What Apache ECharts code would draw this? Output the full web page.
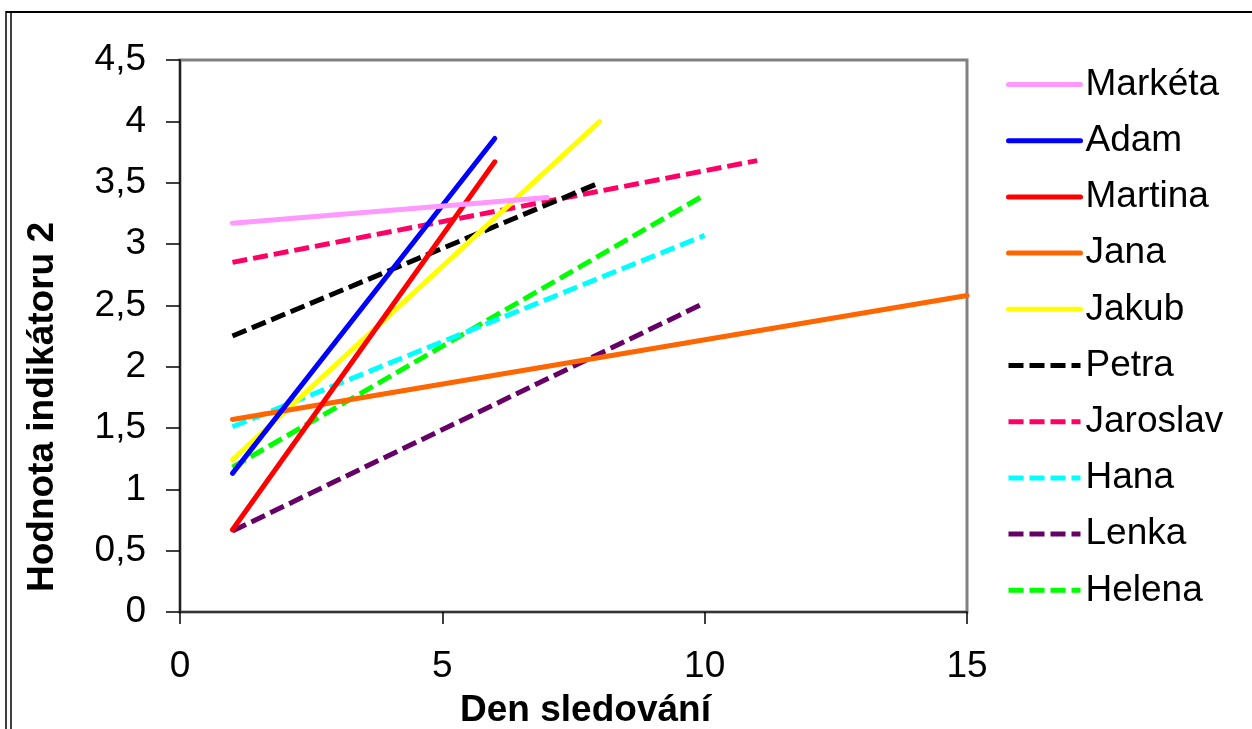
<!DOCTYPE html>
<html>
<head>
<meta charset="utf-8">
<script src="https://cdn.jsdelivr.net/npm/echarts@6/dist/echarts.min.js"></script>
<style>
html,body{margin:0;padding:0;background:#fff;}
#chart{width:1252px;height:729px;}
</style>
</head>
<body>
<div id="chart"></div>
<script>
// Data (x = day, y = indicator value); each series is a straight line between two points
const names = ['Markéta','Adam','Martina','Jana','Jakub','Petra','Jaroslav','Hana','Lenka','Helena'];
const markeata = [[1, 3.17], [7, 3.38]];
const adam     = [[1, 1.13], [6, 3.86]];
const martina  = [[1, 0.67], [6, 3.67]];
const jana     = [[1, 1.57], [15, 2.58]];
const jakub    = [[1, 1.24], [8, 4.0]];
const petra    = [[1, 2.25], [8, 3.5]];
const jaroslav = [[1, 2.85], [11, 3.68]];
const hana     = [[1, 1.51], [10, 3.07]];
const lenka    = [[1, 0.66], [10, 2.52]];
const helena   = [[1, 1.18], [10, 3.40]];
const seriesData = [markeata, adam, martina, jana, jakub, petra, jaroslav, hana, lenka, helena];
const colors = ['#FF99FF','#0000FF','#FF0000','#FF6600','#FFFF00','#000000','#FF0066','#00FFFF','#660066','#00FF00'];
const dashed = [false,false,false,false,false,true,true,true,true,true];
const yTicks = [0, 0.5, 1, 1.5, 2, 2.5, 3, 3.5, 4, 4.5];
const xTicks = [0, 5, 10, 15];
const xTitle = 'Den sledování';
const yTitle = 'Hodnota indikátoru 2';

const FONT = '"Liberation Sans", Arial, sans-serif';
const chart = echarts.init(document.getElementById('chart'), null, {renderer: 'canvas'});

const series = names.map((n, i) => ({
  name: n,
  type: 'line',
  data: seriesData[i],
  symbol: 'none',
  showSymbol: false,
  animation: false,
  lineStyle: {
    color: colors[i],
    width: 5,
    type: dashed[i] ? [15, 6] : 'solid',
    cap: dashed[i] ? 'butt' : 'round'
  },
  itemStyle: {color: colors[i]},
  z: 10 - i
}));

chart.setOption({
  animation: false,
  backgroundColor: '#ffffff',
  grid: {
    left: 180, right: 285, top: 60, bottom: 117,
    containLabel: false, outerBoundsMode: 'none',
    show: true, borderColor: '#808080', borderWidth: 3, backgroundColor: 'transparent'
  },
  xAxis: {
    type: 'value', min: xTicks[0], max: xTicks[xTicks.length - 1], interval: 5,
    name: xTitle, nameLocation: 'middle', nameGap: 80,
    nameTextStyle: {fontFamily: FONT, fontSize: 37, fontWeight: 'bold', color: '#000', padding: [0, 0, 0, 24]},
    axisLine: {show: true, onZero: false, lineStyle: {color: '#333', width: 2}},
    axisTick: {show: true, inside: false, length: 12, lineStyle: {color: '#000', width: 1.5}},
    axisLabel: {fontFamily: FONT, fontSize: 37, color: '#000', margin: 36},
    splitLine: {show: false}
  },
  yAxis: {
    type: 'value', min: yTicks[0], max: yTicks[yTicks.length - 1], interval: 0.5,
    axisLine: {show: true, onZero: false, lineStyle: {color: '#000', width: 1.5}},
    axisTick: {show: true, inside: false, length: 14, lineStyle: {color: '#000', width: 1.5}},
    axisLabel: {fontFamily: FONT, fontSize: 37, color: '#000', margin: 34,
      formatter: v => String(v).replace('.', ',')},
    splitLine: {show: false}
  },
  legend: {
    orient: 'vertical', left: 1001, top: 61,
    itemWidth: 72, itemHeight: 14, itemGap: 19.2,
    data: names,
    textStyle: {fontFamily: FONT, fontSize: 37, color: '#000'},
    lineStyle: {width: 5},
    itemStyle: {color: 'rgba(0,0,0,0)', borderWidth: 0, opacity: 0},
    selectedMode: false
  },
  graphic: [
    {type: 'line', shape: {x1: 6, y1: 12, x2: 1252, y2: 12}, style: {stroke: '#000', lineWidth: 2}, silent: true},
    {type: 'line', shape: {x1: 6, y1: 11, x2: 6, y2: 729}, style: {stroke: '#000', lineWidth: 1.5}, silent: true},
    {type: 'line', shape: {x1: 11, y1: 12, x2: 11, y2: 729}, style: {stroke: '#000', lineWidth: 1.5}, silent: true},
    {type: 'text', x: 43, y: 407, rotation: Math.PI / 2, silent: true,
      style: {text: yTitle, fontFamily: FONT, fontSize: 37, fontWeight: 'bold', fill: '#000',
        align: 'center', verticalAlign: 'middle'}}
  ],
  series: series
});
</script>
</body>
</html>
